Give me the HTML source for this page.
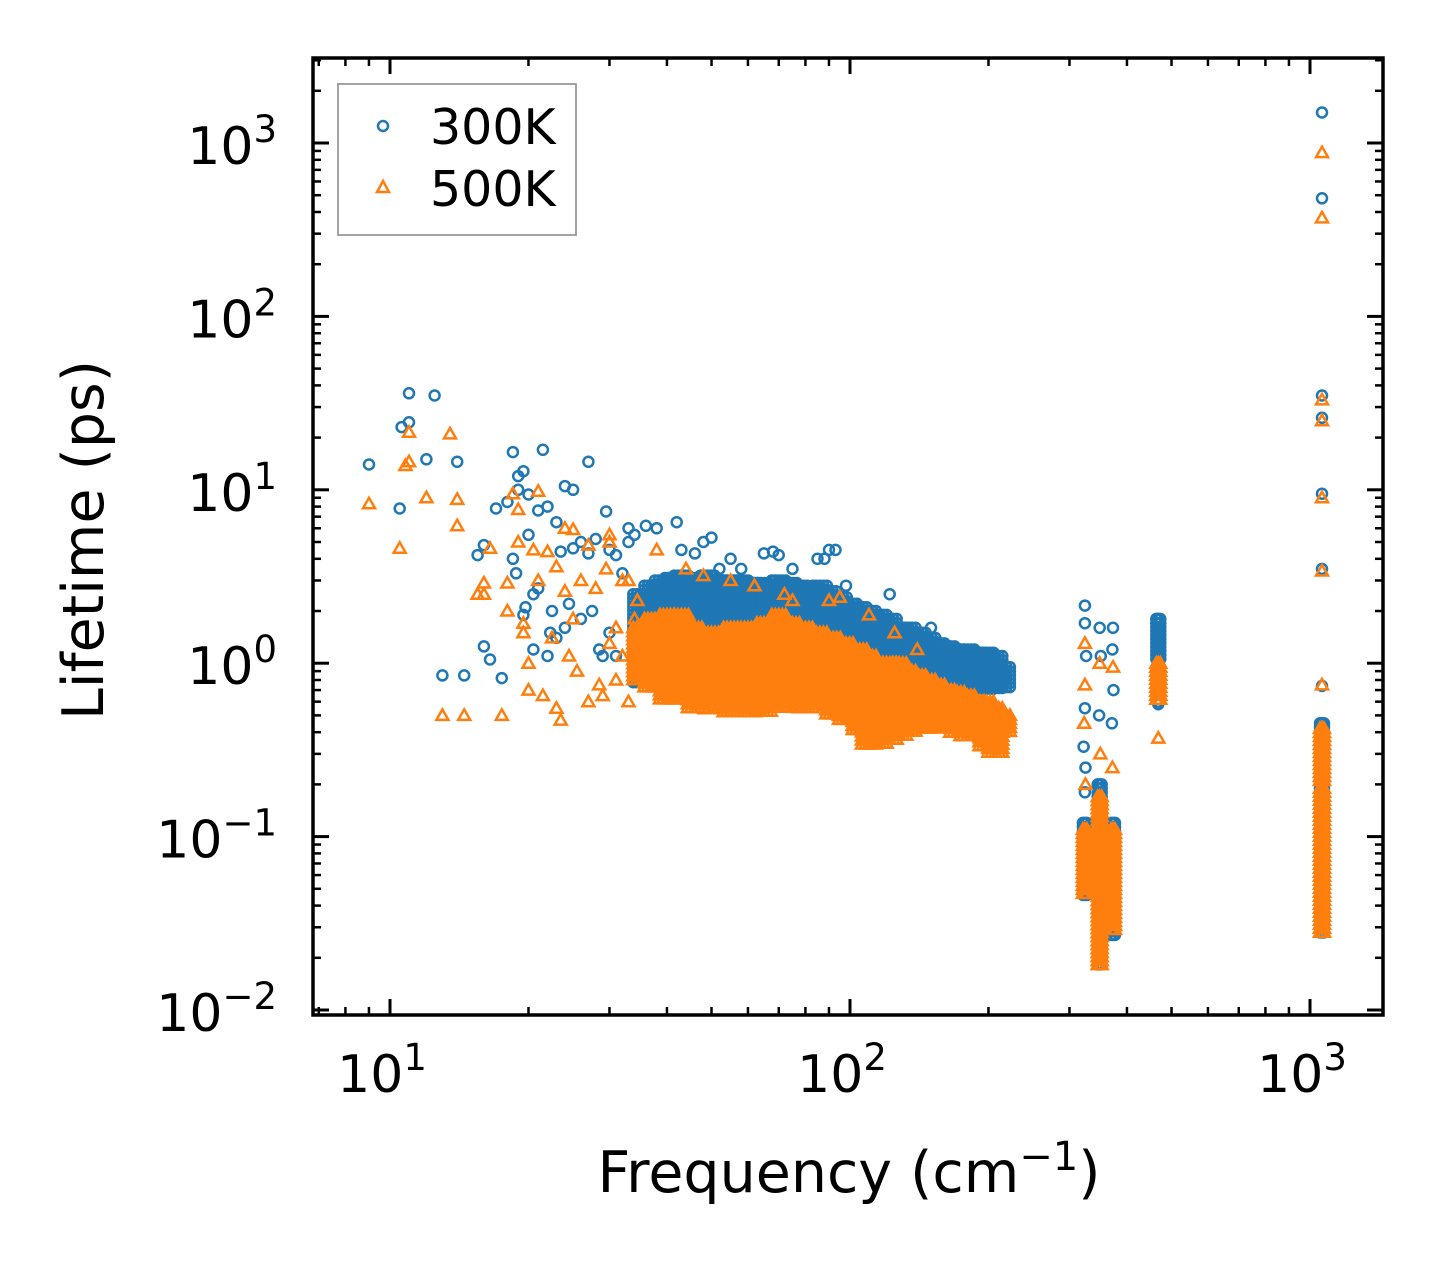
<!DOCTYPE html>
<html><head><meta charset="utf-8"><style>
html,body{margin:0;padding:0;background:#fff;}
svg{display:block;font-family:"DejaVu Sans","Liberation Sans",sans-serif;}
</style></head><body>
<svg id="chart" width="1442" height="1265" viewBox="0 0 1442 1265" xmlns="http://www.w3.org/2000/svg">
<rect x="0" y="0" width="1442" height="1265" fill="#fff"/>
<g id="marks"></g>
<g id="axes"></g>
<g id="legend">
<rect x="338" y="84" width="238" height="151" fill="#fff" stroke="#999" stroke-width="1.8"/>
<circle cx="383" cy="126" r="5" fill="none" stroke="#1f77b4" stroke-width="2.5"/>
<path d="M383,181 L389,192 L377,192 Z" fill="none" stroke="#ff7f0e" stroke-width="2.5"/>
<text x="430" y="144" font-size="49">300K</text>
<text x="430" y="206" font-size="49">500K</text>
</g>
<text transform="translate(103,540) rotate(-90)" text-anchor="middle" font-size="57">Lifetime (ps)</text>
<text x="849" y="1192" text-anchor="middle" font-size="57">Frequency (cm<tspan dy="-22" font-size="40">−1</tspan><tspan dy="22">)</tspan></text>
</svg>
<script>
// ---- scatter data (sparse points) ----
const freq300 = [9,10.5,10.6,11,11,12,12.5,13,14,14.5,15.5,16,16,16.5,17,17.5,18,18.5,18.5,18.8,19,19,19.5,19.5,19.7,20,20,20.5,20.5,21,21,21.5,22,22,22.3,22.5,23,23,23.5,24,24,24.5,25,25,26,26,27,27,27.5,28,28.5,29,29.5,30,30,31,31,32,33,33,34,36,38,42,43,46,48,50,52,55,58,65,68,70,75,85,88,90,93,98,122,150,
 324,324,326,324,322,325,324,349,351,348,373,372,374,371,468,468,1062,1062,1062,1062,1062,1062,1062];
const life300 = [14,7.8,23,36,24.5,15,35,0.85,14.5,0.85,4.2,4.8,1.25,1.05,7.8,0.82,8.5,16.5,4,3.3,10,12,12.8,1.9,2.1,5.5,9.4,1.2,2.5,7.6,2.7,17,1.1,8,1.5,2,6.5,1.4,4.4,1.6,10.5,2.2,10,4.6,5,1.8,14.5,4.3,2,5.2,1.2,1.1,7.5,4.5,1.5,4.2,1.1,3.3,5,6,5.5,6.2,6,6.5,4.5,4.3,5,5.3,3.5,4,3.5,4.3,4.4,4.2,3.5,4,4,4.5,4.5,2.8,2.5,1.6,
 2.15,1.7,1.1,0.55,0.33,0.25,0.18,1.6,1.1,0.5,1.6,1.2,0.7,0.45,0.58,0.6,1500,480,35,26,9.5,3.5,0.74];
const freq500 = [9,10.5,10.8,11,11,12,13,13.5,14,14,14.5,15.5,16,16,16.5,17.5,18,18,18.5,19,19,19.5,19.5,20,20,20.5,21,21,21.5,22,22.5,23,23,23.5,24,24,24.5,25,25,25.5,26,27,27,28,28.5,29,29.5,30,30,31,31,32,33,33,34,34.5,38,30,32,44,48,55,62,72,90,95,110,125,140,75,
 324,324,323,325,349,350,373,372,468,1062,1062,1062,1062,1062,1062,1062];
const life500 = [8.3,4.6,13.8,14.5,21.5,9,0.5,21,6.2,8.8,0.5,2.5,2.5,2.9,4.6,0.5,2.9,2,9.5,7.7,5,1.5,1.7,1,0.7,4.5,9.8,3,0.65,4.4,1.4,3.6,0.55,0.47,6,2.6,1.1,1.8,5.9,0.9,3,4.8,0.6,2.7,0.75,0.65,3.5,5,1.3,1.6,0.8,1.1,0.6,3,1.8,2.3,4.5,5.5,3,3.5,3.2,3,2.8,2.5,2.3,2.4,1.9,1.5,1.2,2.3,
 1.3,0.75,0.45,0.2,1.0,0.3,0.95,0.25,0.37,880,370,33,25,9,3.4,0.75];
// ---- dense bands (frequency column, lowest and highest lifetime) ----
const bandFreq300 = [35,37,39,41,43,45,47,49,52,55,58,61,64,67,70,74,78,82,86,90,95,100,105,110,116,122,128,134,141,148,155,163,171,180,189,198,207,215, 324,349,373,468,1062,1062];
const bandLo300  = [0.75,0.75,0.75,0.75,0.75,0.75,0.75,0.75,0.75,0.75,0.75,0.75,0.75,0.75,0.75,0.75,0.75,0.75,0.75,0.75,0.75,0.75,0.75,0.75,0.72,0.72,0.72,0.72,0.7,0.7,0.7,0.7,0.7,0.7,0.7,0.7,0.7,0.7, 0.045,0.018,0.027,1.05,0.027,0.2];
const bandHi300  = [2.5,2.8,3,3.1,3.2,3,3.1,3.2,3,3,3,2.9,2.9,2.8,3,2.9,2.8,2.7,2.8,2.6,2.4,2.2,2.1,2.0,1.9,1.8,1.6,1.6,1.5,1.4,1.3,1.25,1.2,1.2,1.15,1.15,1.1,0.95, 0.12,0.2,0.12,1.8,0.2,0.45];
const bandFreq500 = [35,37,40,43,46,50,55,60,65,70,75,80,86,92,98,105,110,116,122,128,134,141,148,155,163,171,180,189,198,207,215, 324,349,373,468,1062,1062];
const bandLo500  = [0.8,0.7,0.6,0.6,0.55,0.52,0.52,0.52,0.52,0.55,0.55,0.55,0.55,0.5,0.45,0.4,0.33,0.33,0.35,0.38,0.4,0.42,0.42,0.42,0.42,0.4,0.38,0.4,0.33,0.3,0.4, 0.045,0.018,0.028,0.6,0.027,0.2];
const bandHi500  = [1.6,1.8,1.9,1.9,1.6,1.5,1.6,1.6,1.7,1.9,1.7,1.6,1.5,1.4,1.3,1.2,1.1,1.0,1.0,1.0,0.9,0.85,0.8,0.75,0.7,0.68,0.65,0.6,0.6,0.55,0.5, 0.11,0.17,0.11,1.0,0.19,0.42];
const xTickVals = [10,100,1000];
const xTickExp = ["1","2","3"];
const yTickVals = [0.01,0.1,1,10,100,1000];
const yTickExp = ["−2","−1","0","1","2","3"];

const L=313,R=1383,T=58,B=1015;
const X0=390, XD=460, Y0=143, YD=173.4;
function xs(f){return X0+XD*(Math.log10(f)-1);}
function ys(v){return Y0+YD*(3-Math.log10(v));}
const NS="http://www.w3.org/2000/svg";
const marks=document.getElementById('marks');
const axes=document.getElementById('axes');
function circ(x,y,name){const c=document.createElementNS(NS,'circle');


c.setAttribute('cx',x.toFixed(1));c.setAttribute('cy',y.toFixed(1));c.setAttribute('r','5');
c.setAttribute('fill','none');c.setAttribute('stroke','#1f77b4');c.setAttribute('stroke-width','2.5');marks.appendChild(c);}
function tri(x,y,name){const p=document.createElementNS(NS,'path');


p.setAttribute('d',`M${x.toFixed(1)},${(y-6).toFixed(1)} L${(x+6).toFixed(1)},${(y+4.5).toFixed(1)} L${(x-6).toFixed(1)},${(y+4.5).toFixed(1)} Z`);
p.setAttribute('fill','none');p.setAttribute('stroke','#ff7f0e');p.setAttribute('stroke-width','2.5');marks.appendChild(p);}
function band(fs,lo,hi,fn,name){for(let i=0;i<fs.length;i++){const xc=xs(fs[i]);const y1=ys(hi[i]),y2=ys(lo[i]);
 const offs = fs[i]<250 ? [-7,-3.5,0,3.5,7] : [-2,0,2];
 for(const o of offs){ for(let y=y1;y<=y2+0.1;y+=4){fn(xc+o,y,name);} } }}
band(bandFreq300,bandLo300,bandHi300,circ,'band-300k-marker');
for(let i=0;i<freq300.length;i++) circ(xs(freq300[i]),ys(life300[i]),'point-300k');
band(bandFreq500,bandLo500,bandHi500,tri,'band-500k-marker');
for(let i=0;i<freq500.length;i++) tri(xs(freq500[i]),ys(life500[i]),'point-500k');

function line(x1,y1,x2,y2,w,name){const l=document.createElementNS(NS,'line');


l.setAttribute('x1',x1);l.setAttribute('y1',y1);l.setAttribute('x2',x2);l.setAttribute('y2',y2);
l.setAttribute('stroke','#000');l.setAttribute('stroke-width',w);axes.appendChild(l);}
for(let d=0;d<=3;d++){for(let k=1;k<=9;k++){const v=Math.pow(10,d)*k;const x=xs(v);if(x<L||x>R)continue;
 const len=k===1?16:8,w=k===1?3:2.5;line(x,B,x,B-len,w,'x-tick');line(x,T,x,T+len,w,'x-tick');}}
for(let d=-3;d<=3;d++){for(let k=1;k<=9;k++){const v=Math.pow(10,d)*k;const y=ys(v);if(y<T||y>B)continue;
 const len=k===1?16:8,w=k===1?3:2.5;line(L,y,L+len,y,w,'y-tick');line(R,y,R-len,y,w,'y-tick');}}
const fr=document.createElementNS(NS,'rect');


fr.setAttribute('x',L);fr.setAttribute('y',T);fr.setAttribute('width',R-L);fr.setAttribute('height',B-T);
fr.setAttribute('fill','none');fr.setAttribute('stroke','#000');fr.setAttribute('stroke-width','3.5');axes.appendChild(fr);
function label(x,y,exp,anchor,name){const t=document.createElementNS(NS,'text');


t.setAttribute('x',x);t.setAttribute('y',y);t.setAttribute('text-anchor',anchor);t.setAttribute('font-size','52');
t.innerHTML='10<tspan dy="-22" font-size="37">'+exp+'</tspan>';axes.appendChild(t);}
for(let i=0;i<xTickVals.length;i++) label(xs(xTickVals[i])-8,1092,xTickExp[i],'middle','x-tick-label');
for(let i=0;i<yTickVals.length;i++) label(277,ys(yTickVals[i])+21,yTickExp[i],'end','y-tick-label');
</script>
</body></html>
